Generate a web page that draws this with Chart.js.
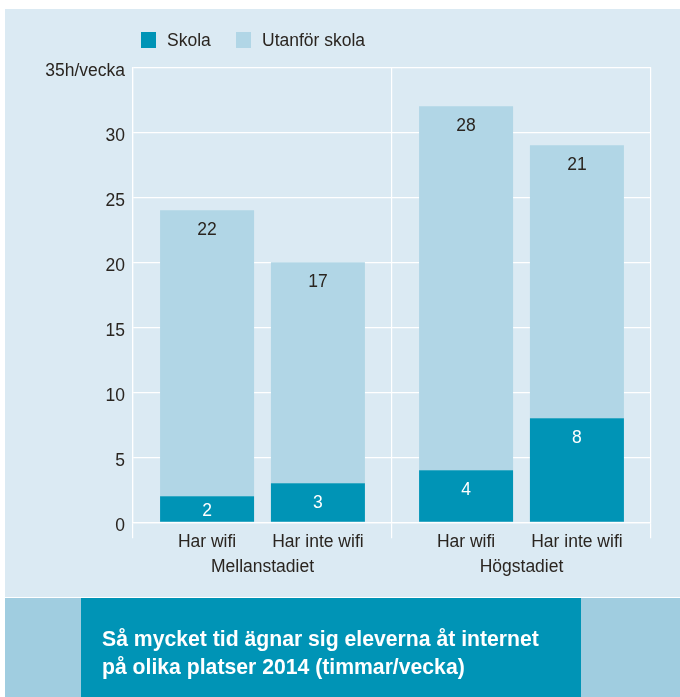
<!DOCTYPE html>
<html>
<head>
<meta charset="utf-8">
<script src="https://cdn.jsdelivr.net/npm/chart.js@4/dist/chart.umd.min.js"></script>
<style>
  html, body { margin: 0; padding: 0; background: #ffffff; }
  #wrap { width: 680px; height: 697px; position: relative; }
</style>
</head>
<body>
<div id="wrap"><canvas id="c" width="680" height="697"></canvas></div>
<script>
// ---- data ----
const groups = ['Mellanstadiet', 'Högstadiet'];
const subLabels = ['Har wifi', 'Har inte wifi'];
const seriesNames = ['Skola', 'Utanför skola'];
const skolaHarWifi = [2, 4];
const skolaHarInteWifi = [3, 8];
const utanforHarWifi = [22, 28];
const utanforHarInteWifi = [17, 21];
const yTicksUnit = 'h/vecka';
const titleLines = ['Så mycket tid ägnar sig eleverna åt internet', 'på olika platser 2014 (timmar/vecka)'];

const C_SKOLA = '#0094b6';
const C_UTAN = '#b1d6e6';
const C_BG = '#dbeaf3';
const C_STRIP = '#a0cde0';
const C_TEXT = '#2a2520';
const FONT = '"Liberation Sans", Arial, Helvetica, sans-serif';
const FS = 17.5;

const datasets = [
  { label: seriesNames[0], data: skolaHarWifi, backgroundColor: C_SKOLA, stack: 's0', sub: 0, txt: '#ffffff' },
  { label: seriesNames[1], data: utanforHarWifi, backgroundColor: C_UTAN, stack: 's0', sub: 0, txt: C_TEXT },
  { label: seriesNames[0], data: skolaHarInteWifi, backgroundColor: C_SKOLA, stack: 's1', sub: 1, txt: '#ffffff' },
  { label: seriesNames[1], data: utanforHarInteWifi, backgroundColor: C_UTAN, stack: 's1', sub: 1, txt: C_TEXT }
];

const decor = {
  id: 'decor',
  beforeDraw(chart) {
    const ctx = chart.ctx;
    ctx.save();
    ctx.fillStyle = '#ffffff';
    ctx.fillRect(0, 0, 680, 697);
    ctx.fillStyle = C_BG;
    ctx.fillRect(5, 9, 675, 588);
    ctx.fillStyle = C_STRIP;
    ctx.fillRect(5, 598, 675, 99);
    ctx.fillStyle = C_SKOLA;
    ctx.fillRect(81, 598, 500, 99);
    // legend
    const items = [
      { x: 141, color: C_SKOLA, text: seriesNames[0] },
      { x: 236, color: C_UTAN, text: seriesNames[1] }
    ];
    ctx.font = FS + 'px ' + FONT;
    ctx.textBaseline = 'middle';
    ctx.textAlign = 'left';
    items.forEach(it => {
      ctx.fillStyle = it.color;
      ctx.fillRect(it.x, 32, 15, 16);
      ctx.fillStyle = C_TEXT;
      ctx.fillText(it.text, it.x + 26, 41);
    });
    // title box text
    ctx.fillStyle = '#ffffff';
    ctx.font = 'bold 21.2px ' + FONT;
    ctx.fillText(titleLines[0], 102, 640);
    ctx.fillText(titleLines[1], 102, 668);
    ctx.restore();
  },
  afterDatasetsDraw(chart) {
    const ctx = chart.ctx;
    ctx.save();
    ctx.font = FS + 'px ' + FONT;
    ctx.textAlign = 'center';
    ctx.textBaseline = 'middle';
    chart.data.datasets.forEach((ds, di) => {
      const meta = chart.getDatasetMeta(di);
      meta.data.forEach((bar, i) => {
        const top = Math.min(bar.y, bar.base);
        const h = Math.abs(bar.base - bar.y);
        const off = Math.min(20, h / 2 + 2);
        ctx.fillStyle = ds.txt;
        ctx.fillText(String(ds.data[i]), bar.x, top + off);
      });
    });
    // sub labels under bars
    ctx.fillStyle = C_TEXT;
    [0, 2].forEach(di => {
      const meta = chart.getDatasetMeta(di);
      meta.data.forEach(bar => {
        ctx.fillText(subLabels[datasets[di].sub], bar.x, 542);
      });
    });
    ctx.restore();
  }
};

new Chart(document.getElementById('c'), {
  type: 'bar',
  data: { labels: groups, datasets: datasets },
  options: {
    responsive: false,
    animation: false,
    devicePixelRatio: 1,
    layout: { padding: { top: 67.3, right: 29, left: 0, bottom: 0 } },
    plugins: { legend: { display: false }, tooltip: { enabled: false } },
    datasets: { bar: { categoryPercentage: 0.856, barPercentage: 0.848 } },
    scales: {
      x: {
        stacked: true,
        grid: { color: '#ffffff', lineWidth: 1.2, offset: true, drawTicks: true, tickLength: 16 },
        border: { color: '#ffffff', width: 1.2 },
        ticks: { color: C_TEXT, font: { family: FONT, size: FS }, padding: 18.5 },
        afterFit(scale) { scale.height = 697 - 522.3; }
      },
      y: {
        stacked: true,
        min: 0, max: 35,
        grid: { color: '#ffffff', lineWidth: 1.2, drawTicks: false },
        border: { color: '#ffffff', width: 1.2 },
        ticks: {
          stepSize: 5,
          color: C_TEXT,
          font: { family: FONT, size: FS },
          padding: 8,
          labelOffset: 4,
          callback: (v) => v === 35 ? v + yTicksUnit : v
        },
        afterFit(scale) { scale.width = 133; }
      }
    }
  },
  plugins: [decor]
});
</script>
</body>
</html>
